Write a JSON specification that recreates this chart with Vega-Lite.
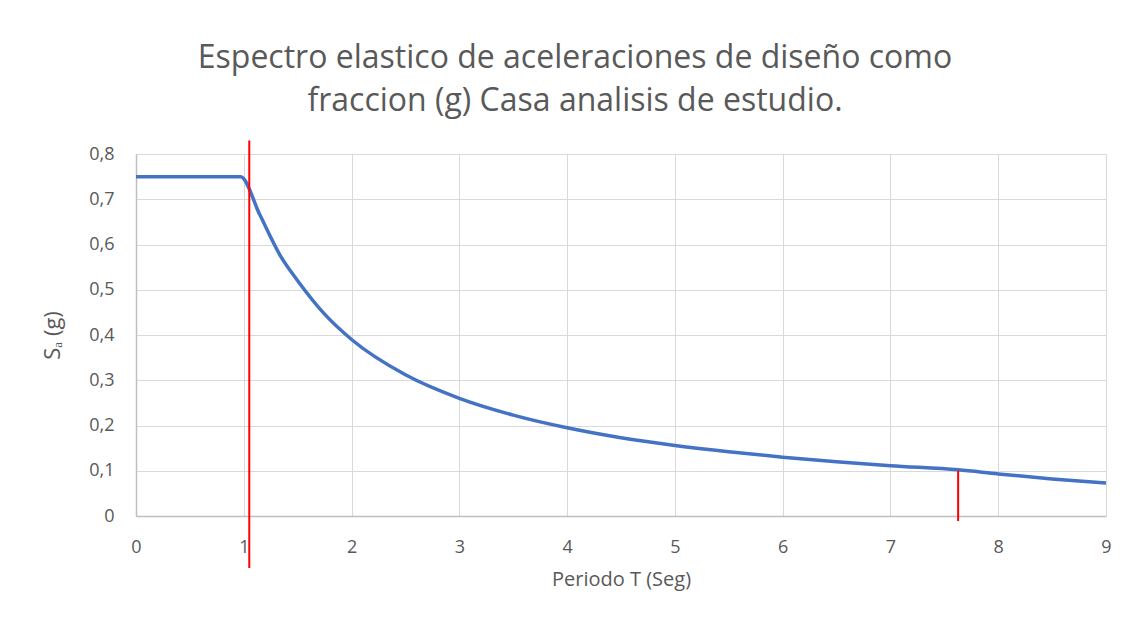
{
  "$schema": "https://vega.github.io/schema/vega-lite/v6.json",
  "autosize": "none",
  "width": 970,
  "height": 362,
  "padding": {"left": 136, "top": 154, "right": 42, "bottom": 112},
  "background": "white",
  "title": {
    "text": ["Espectro elastico de aceleraciones de diseño como", "fraccion (g) Casa analisis de estudio."],
    "anchor": "middle",
    "frame": "group",
    "dx": -46,
    "fontSize": 32,
    "font": "Open Sans",
    "fontWeight": "normal",
    "color": "#595959",
    "lineHeight": 43,
    "baseline": "alphabetic",
    "offset": -4
  },
  "datasets": {
    "curve": [
      {"T": 0, "Sa": 0.75},
      {"T": 0.97, "Sa": 0.75},
      {"T": 1.15, "Sa": 0.665},
      {"T": 1.34, "Sa": 0.575},
      {"T": 1.5, "Sa": 0.52},
      {"T": 1.75, "Sa": 0.446},
      {"T": 2.0, "Sa": 0.39},
      {"T": 2.5, "Sa": 0.312},
      {"T": 3.0, "Sa": 0.26},
      {"T": 3.5, "Sa": 0.223},
      {"T": 4.0, "Sa": 0.195},
      {"T": 4.5, "Sa": 0.173},
      {"T": 5.0, "Sa": 0.156},
      {"T": 5.5, "Sa": 0.142},
      {"T": 6.0, "Sa": 0.13},
      {"T": 6.5, "Sa": 0.12},
      {"T": 7.0, "Sa": 0.111},
      {"T": 7.63, "Sa": 0.102},
      {"T": 8.0, "Sa": 0.093},
      {"T": 8.5, "Sa": 0.082},
      {"T": 9.0, "Sa": 0.073}
    ],
    "marks": [
      {"T": 1.051, "lo": -0.115, "hi": 0.83},
      {"T": 7.628, "lo": -0.011, "hi": 0.1}
    ]
  },
  "layer": [
    {
      "data": {"name": "curve"},
      "mark": {"type": "line", "color": "#4472C4", "strokeWidth": 3.5, "interpolate": "monotone"},
      "encoding": {
        "x": {
          "field": "T", "type": "quantitative",
          "scale": {"domain": [0, 9], "nice": false},
          "axis": {
            "title": "Periodo T (Seg)",
            "values": [0, 1, 2, 3, 4, 5, 6, 7, 8, 9],
            "format": "d",
            "labelFlush": false
          }
        },
        "y": {
          "field": "Sa", "type": "quantitative",
          "scale": {"domain": [0, 0.8], "nice": false},
          "axis": {
            "title": "Sₐ (g)",
            "values": [0, 0.1, 0.2, 0.3, 0.4, 0.5, 0.6, 0.7, 0.8],
            "labelExpr": "datum.value == 0 ? '0' : replace(format(datum.value, '.1f'), '.', ',')"
          }
        }
      }
    },
    {
      "data": {"name": "marks"},
      "mark": {"type": "rule", "color": "#FF0000", "strokeWidth": 2, "clip": false},
      "encoding": {
        "x": {"field": "T", "type": "quantitative"},
        "y": {"field": "lo", "type": "quantitative"},
        "y2": {"field": "hi"}
      }
    }
  ],
  "config": {
    "view": {"stroke": null},
    "axis": {
      "grid": true,
      "gridColor": "#D9D9D9",
      "gridWidth": 1,
      "domainColor": "#BFBFBF",
      "domainWidth": 1.5,
      "ticks": false,
      "tickSize": 0,
      "labelFont": "Open Sans",
      "labelFontSize": 18,
      "labelColor": "#595959",
      "titleFont": "Open Sans",
      "titleFontSize": 20,
      "titleFontWeight": "normal",
      "titleColor": "#595959"
    },
    "axisX": {"labelPadding": 22, "titlePadding": 13},
    "axisY": {"labelPadding": 22, "titlePadding": 24, "titleFontSize": 22}
  }
}
